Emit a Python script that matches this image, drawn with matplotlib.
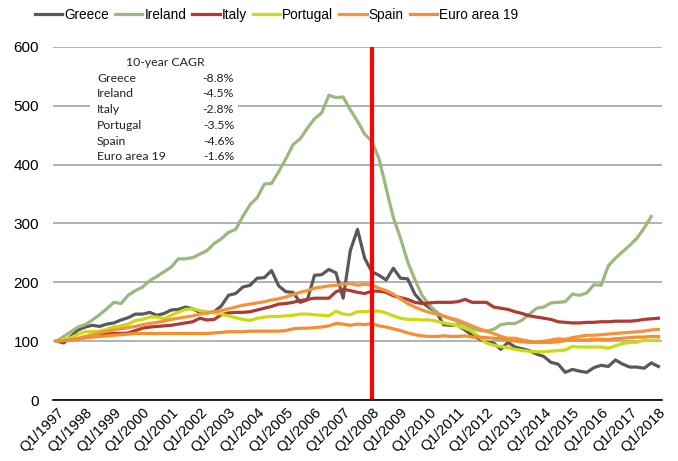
import numpy as np
import matplotlib
matplotlib.use('Agg')
import matplotlib.pyplot as plt
from matplotlib.patches import Rectangle

plt.rcParams['font.family'] = ['Liberation Sans', 'DejaVu Sans']

# quarterly index, Q1/1997 = 100
years = list(range(1997, 2019))
tick_labels = ['Q1/%d' % y for y in years]

greece = [100, 97, 108, 119, 124, 127, 125, 129, 131, 136, 140, 146, 146, 149, 144, 147,
          153, 154, 158, 155, 149, 148, 150, 160, 178, 181, 192, 195, 207, 208, 220, 194,
          184, 183, 166, 170, 212, 213, 222, 216, 173, 254, 290, 241, 218, 212, 204, 224,
          207, 206, 180, 166, 157, 150, 128, 127, 127, 119, 110, 104, 98, 97, 86, 98,
          90, 87, 84, 78, 74, 64, 61, 47, 52, 49, 47, 55, 59, 57, 68, 61,
          56, 56, 54, 63, 57]
ireland = [100, 108, 116, 124, 128, 136, 145, 155, 166, 164, 178, 186, 192, 203, 210, 218,
           226, 240, 240, 242, 248, 254, 266, 274, 285, 290, 312, 332, 344, 367, 368, 388,
           410, 434, 444, 462, 478, 488, 518, 514, 515, 493, 474, 452, 440, 410, 360, 310,
           275, 235, 205, 178, 162, 149, 142, 138, 133, 128, 122, 118, 117, 120, 128, 130,
           130, 136, 146, 156, 158, 165, 166, 167, 180, 178, 182, 196, 195, 228, 241, 252,
           263, 275, 292, 312, np.nan]
italy = [100, 101, 103, 104, 106, 108, 110, 112, 113, 113, 114, 118, 122, 124, 125, 126,
         127, 129, 131, 133, 139, 136, 137, 145, 148, 149, 149, 150, 153, 156, 159, 163,
         164, 166, 169, 171, 173, 173, 173, 184, 188, 186, 183, 181, 185, 185, 183, 177,
         174, 171, 166, 164, 165, 166, 166, 166, 167, 171, 166, 166, 166, 158, 156, 154,
         150, 147, 143, 141, 139, 137, 133, 132, 131, 131, 132, 132, 133, 133, 134, 134,
         134, 135, 137, 138, 139]
portugal = [100, 103, 106, 112, 116, 116, 117, 120, 124, 126, 129, 135, 137, 141, 141, 138,
            144, 149, 154, 155, 152, 150, 148, 146, 143, 140, 137, 135, 139, 141, 142, 142,
            143, 144, 146, 146, 145, 144, 143, 151, 146, 145, 150, 150, 151, 151, 148, 143,
            139, 137, 137, 136, 136, 134, 131, 129, 126, 122, 117, 107, 97, 93, 91, 89,
            86, 84, 83, 82, 82, 83, 84, 85, 91, 90, 90, 90, 90, 88, 92, 96,
            98, 98, 102, 101, 102]
spain = [100, 101, 102, 105, 108, 111, 114, 117, 119, 121, 123, 125, 128, 130, 132, 134,
         137, 139, 141, 143, 146, 148, 150, 152, 155, 158, 161, 163, 165, 167, 170, 172,
         175, 179, 183, 186, 190, 192, 194, 195, 197, 198, 195, 197, 195, 190, 186, 180,
         172, 164, 158, 153, 149, 146, 143, 139, 136, 131, 126, 121, 117, 113, 108, 105,
         105, 102, 100, 98, 100, 102, 104, 103, 106, 108, 110, 110, 111, 112, 113, 114,
         115, 116, 117, 119, 120]
euro = [100, 101, 102, 104, 106, 107, 108, 109, 110, 111, 112, 113, 113, 113, 113, 113,
        113, 113, 113, 113, 113, 113, 114, 115, 116, 116, 116, 117, 117, 117, 117, 117,
        118, 121, 122, 122, 123, 124, 126, 130, 129, 127, 129, 128, 130, 126, 124, 121,
        118, 114, 111, 109, 108, 108, 109, 108, 108, 109, 107, 107, 106, 105, 104, 102,
        100, 99, 98, 98, 98, 98, 99, 101, 102, 102, 102, 103, 103, 103, 104, 105,
        106, 107, 107, 108, 108]

names = ['Greece', 'Ireland', 'Italy', 'Portugal', 'Spain', 'Euro area 19']
cagr = ['-8.8%', '-4.5%', '-2.8%', '-3.5%', '-4.6%', '-1.6%']
colors = ['#595959', '#9BB87E', '#AE3B32', '#CCDA10', '#F5933A', '#F68D2E']
series = [greece, ireland, italy, portugal, spain, euro]

W, H = 678, 461
fig = plt.figure(figsize=(W / 100, H / 100), dpi=100)
ax = fig.add_axes([53 / W, 1 - 400 / H, (662 - 53) / W, (400 - 47) / H])

x = np.arange(len(greece))
for name, vals, c in zip(names, series, colors):
    ax.plot(x, vals, color=c, lw=2.3, label=name, solid_joinstyle='round')

ax.axvline(44, color='#FF0000', lw=3, zorder=5)

ax.set_xlim(-0.5, len(x) - 0.5)
ax.set_ylim(0, 600)
ax.set_yticks(range(0, 601, 100))
ax.yaxis.grid(True, color='#A6A6A6', lw=1.2)
ax.set_axisbelow(True)
for s in ['left', 'right', 'top']:
    ax.spines[s].set_visible(False)
ax.spines['bottom'].set_color('black')
ax.spines['bottom'].set_linewidth(1.2)
ax.spines['bottom'].set_zorder(6)
ax.tick_params(length=0, labelsize=11, pad=6)
ax.tick_params(axis='y', pad=10)
ax.set_xticks(x[::4])
ax.set_xticklabels(tick_labels, rotation=45, ha='right', rotation_mode='anchor', fontsize=10.5)
ax.tick_params(axis='x', pad=4)

# CAGR box (white background hides the gridline)
def px(xp, yp):
    return xp / W, 1 - yp / H

box = Rectangle(px(90, 160), 148 / W, 112 / H, transform=fig.transFigure,
                facecolor='white', edgecolor='none', zorder=3)
fig.patches.append(box)
tf = dict(family=['Lato', 'DejaVu Sans'], fontsize=8.8, color='#222222', zorder=4)
fig.text(*px(165, 63), '10-year CAGR', ha='center', va='center', **tf)
for k, (n, v) in enumerate(zip(names, cagr)):
    yy = 78 + k * 15.8
    fig.text(*px(97, yy), n, ha='left', va='center', **tf)
    fig.text(*px(234, yy), v, ha='right', va='center', **tf)

fig.legend(loc='center left', bbox_to_anchor=(35 / W, 1 - 15 / H), ncol=6, frameon=False,
           fontsize=9.8, handlelength=2.0, handletextpad=0.15, columnspacing=0.45,
           borderpad=0, borderaxespad=0)

fig.savefig('out.png', dpi=100)
